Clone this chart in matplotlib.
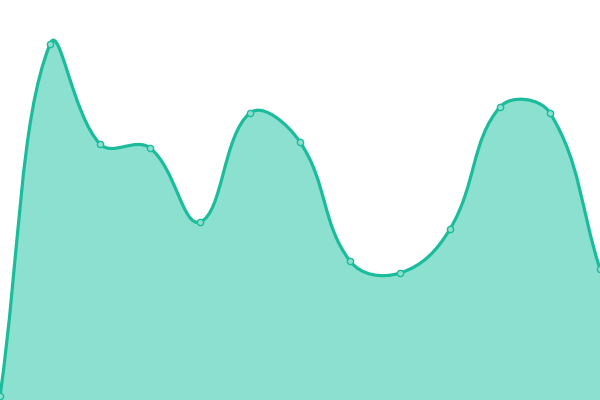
import matplotlib
matplotlib.use("Agg")
import matplotlib.pyplot as plt
import numpy as np
from matplotlib.path import Path
from matplotlib.patches import PathPatch

# values (13 evenly spaced points)
idx = list(range(13))
values = [4, 356, 256, 252, 178, 287, 258, 139, 127, 171, 293, 287, 131]

line_color = "#1abc9c"
fill_color = "#8ce0cf"


def spline_controls(pts, tension=0.4):
    # same idea as Chart.js splineCurve, done in pixel space
    ctrl = []
    n = len(pts)
    for i in range(n):
        p0 = pts[max(i - 1, 0)]
        p1 = pts[i]
        p2 = pts[min(i + 1, n - 1)]
        d01 = np.hypot(*(p1 - p0))
        d12 = np.hypot(*(p2 - p1))
        tot = d01 + d12
        s01 = d01 / tot if tot else 0
        s12 = d12 / tot if tot else 0
        fa = tension * s01
        fb = tension * s12
        prev_c = p1 - fa * (p2 - p0)
        next_c = p1 + fb * (p2 - p0)
        ctrl.append((prev_c, next_c))
    return ctrl


fig = plt.figure(figsize=(6, 4), dpi=100)
ax = fig.add_axes([0, 0, 1, 1])
ax.set_xlim(0, 12)
ax.set_ylim(0, 400)
ax.axis("off")

pix = ax.transData.transform(np.column_stack([idx, values]))
bbox = ax.bbox
ctrl = spline_controls(pix)

verts = [pix[0]]
codes = [Path.MOVETO]
for i in range(len(pix) - 1):
    c1 = ctrl[i][1].copy()
    c2 = ctrl[i + 1][0].copy()
    for c in (c1, c2):
        c[0] = min(max(c[0], bbox.x0), bbox.x1)
        c[1] = min(max(c[1], bbox.y0), bbox.y1)
    verts += [c1, c2, pix[i + 1]]
    codes += [Path.CURVE4] * 3

inv = ax.transData.inverted()
data_verts = inv.transform(np.array(verts))

line_path = Path(data_verts, codes)
fill_verts = np.vstack([data_verts, [[12, 0], [0, 0], data_verts[0]]])
fill_codes = codes + [Path.LINETO, Path.LINETO, Path.CLOSEPOLY]
fill_path = Path(fill_verts, fill_codes)

ax.add_patch(PathPatch(fill_path, facecolor=fill_color, edgecolor="none"))
ax.add_patch(PathPatch(line_path, facecolor="none", edgecolor=line_color, lw=2.3))
ax.plot(idx, values, "o", ms=4.5, mfc=fill_color, mec=line_color, mew=1.0)

fig.savefig("out.png", dpi=100)
